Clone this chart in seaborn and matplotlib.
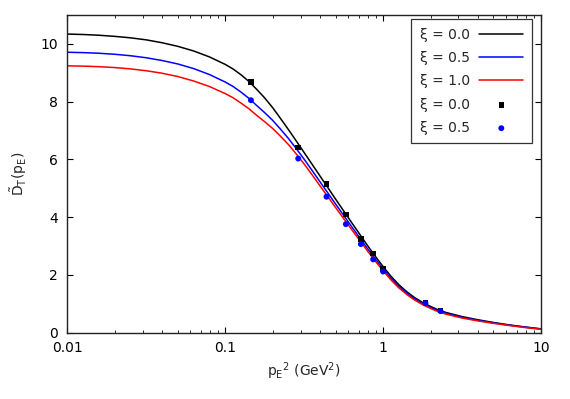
import numpy as np
import pandas as pd
import matplotlib
matplotlib.use("Agg")
import matplotlib.pyplot as plt
import matplotlib.ticker as mticker
import seaborn as sns

# ---- data ----
curve_x = [0.01, 0.0126, 0.0158, 0.02, 0.0251, 0.0316, 0.0398, 0.0501, 0.0631, 0.0794,
           0.1, 0.1122, 0.126, 0.1413, 0.158, 0.1778, 0.2, 0.2239, 0.251, 0.2818,
           0.316, 0.3548, 0.398, 0.4467, 0.501, 0.5623, 0.631, 0.7079, 0.794, 0.8913,
           1.0, 1.122, 1.26, 1.413, 1.58, 1.778, 2.0, 2.239, 2.51,
           3.16, 3.98, 5.01, 6.31, 7.94, 10.0]
curve_xi00 = [10.34, 10.325, 10.30, 10.26, 10.21, 10.14, 10.04, 9.915, 9.755, 9.55,
              9.29, 9.13, 8.93, 8.70, 8.43, 8.13, 7.79, 7.42, 7.04, 6.64,
              6.24, 5.835, 5.43, 5.025, 4.62, 4.22, 3.82, 3.425, 3.03, 2.65,
              2.29, 1.955, 1.66, 1.42, 1.22, 1.05, 0.91, 0.79, 0.70,
              0.56, 0.45, 0.355, 0.27, 0.20, 0.135]
curve_xi05 = [9.71, 9.698, 9.676, 9.64, 9.59, 9.52, 9.425, 9.305, 9.145, 8.94,
              8.68, 8.525, 8.33, 8.115, 7.87, 7.62, 7.35, 7.05, 6.73, 6.375,
              6.01, 5.62, 5.23, 4.84, 4.45, 4.065, 3.68, 3.30, 2.92, 2.555,
              2.21, 1.885, 1.60, 1.368, 1.175, 1.01, 0.875, 0.758, 0.67,
              0.535, 0.43, 0.34, 0.26, 0.19, 0.13]
curve_xi10 = [9.24, 9.23, 9.211, 9.18, 9.135, 9.07, 8.985, 8.87, 8.715, 8.525,
              8.28, 8.135, 7.95, 7.755, 7.53, 7.305, 7.07, 6.805, 6.52, 6.19,
              5.845, 5.47, 5.09, 4.71, 4.33, 3.955, 3.58, 3.21, 2.84, 2.483,
              2.145, 1.828, 1.55, 1.323, 1.135, 0.973, 0.84, 0.726, 0.64,
              0.51, 0.41, 0.325, 0.25, 0.18, 0.12]

pts_x = [0.1456, 0.290, 0.438, 0.581, 0.723, 0.865, 1.0, 1.855, 2.31]
pts_xi00 = [8.69, 6.41, 5.14, 4.10, 3.25, 2.75, 2.21, 1.04, 0.77]
pts_xi05 = [8.05, 6.03, 4.71, 3.76, 3.07, 2.54, 2.12, 1.02, 0.75]

line_labels = ["ξ = 0.0", "ξ = 0.5", "ξ = 1.0"]
point_labels = ["ξ = 0.0", "ξ = 0.5"]
xticks = [0.01, 0.1, 1, 10]
xtick_labels = ["0.01", "0.1", "1", "10"]
yticks = [0, 2, 4, 6, 8, 10]

# ---- style ----
sns.set_theme(style="ticks")
plt.rcParams["font.family"] = ["DejaVu Sans"]
plt.rcParams["mathtext.fontset"] = "dejavusans"

fig = plt.figure(figsize=(5.70, 3.99), dpi=100)
ax = fig.add_axes([67.3 / 570, 1 - 332.75 / 399, (541 - 67.3) / 570, (332.75 - 15) / 399])

line_df = pd.DataFrame({
    "x": curve_x * 3,
    "y": curve_xi00 + curve_xi05 + curve_xi10,
    "series": sum([[l] * len(curve_x) for l in line_labels], []),
})
line_colors = ["#000000", "#0000ff", "#ff0000"]
handles = []
for lab, col in zip(line_labels, line_colors):
    sub = line_df[line_df["series"] == lab]
    sns.lineplot(data=sub, x="x", y="y", color=col, lw=1.1, ax=ax,
                 estimator=None, sort=False, legend=False)
    handles.append(ax.lines[-1])

sns.scatterplot(x=pts_x, y=pts_xi00, marker="s", s=16, color="#000000",
                edgecolor="none", ax=ax, legend=False, zorder=5)
handles.append(ax.collections[-1])
sns.scatterplot(x=pts_x, y=pts_xi05, marker="o", s=18, color="#0000ff",
                edgecolor="none", ax=ax, legend=False, zorder=6)
handles.append(ax.collections[-1])

ax.set_xscale("log")
ax.set_xlim(0.01, 10)
ax.set_ylim(0, 11)
ax.set_xticks(xticks)
ax.set_xticklabels(xtick_labels)
ax.xaxis.set_minor_locator(mticker.LogLocator(base=10, subs=np.arange(2, 10)))
ax.xaxis.set_minor_formatter(mticker.NullFormatter())
ax.set_yticks(yticks)
ax.yaxis.set_minor_locator(mticker.NullLocator())

ax.tick_params(axis="both", which="major", direction="in", length=4, width=0.8,
               top=True, right=True, labelsize=10, colors="#000000", pad=7)
ax.tick_params(axis="x", which="minor", direction="in", length=2, width=0.7,
               top=True, bottom=True)
ax.tick_params(axis="x", which="major", pad=6)
for sp in ax.spines.values():
    sp.set_visible(True)
    sp.set_color("#222222")
    sp.set_linewidth(1.0)

ax.set_xlabel(r"$\mathrm{p}_\mathrm{E}{}^2$ (GeV$^2$)", fontsize=10, labelpad=4)
ax.set_ylabel(r"$\tilde{\mathrm{D}}_\mathrm{T}(\mathrm{p}_\mathrm{E})$", fontsize=10, labelpad=8)

leg = ax.legend(handles, line_labels + point_labels, loc="upper right",
                bbox_to_anchor=(0.980, 0.9865), borderaxespad=0, markerfirst=False,
                fontsize=10, frameon=True, fancybox=False, framealpha=1,
                edgecolor="#333333", handlelength=3.15, handletextpad=0.7,
                labelspacing=0.67, borderpad=0.6, scatterpoints=1)
leg.get_frame().set_linewidth(0.9)

fig.savefig("out.png", dpi=100)
